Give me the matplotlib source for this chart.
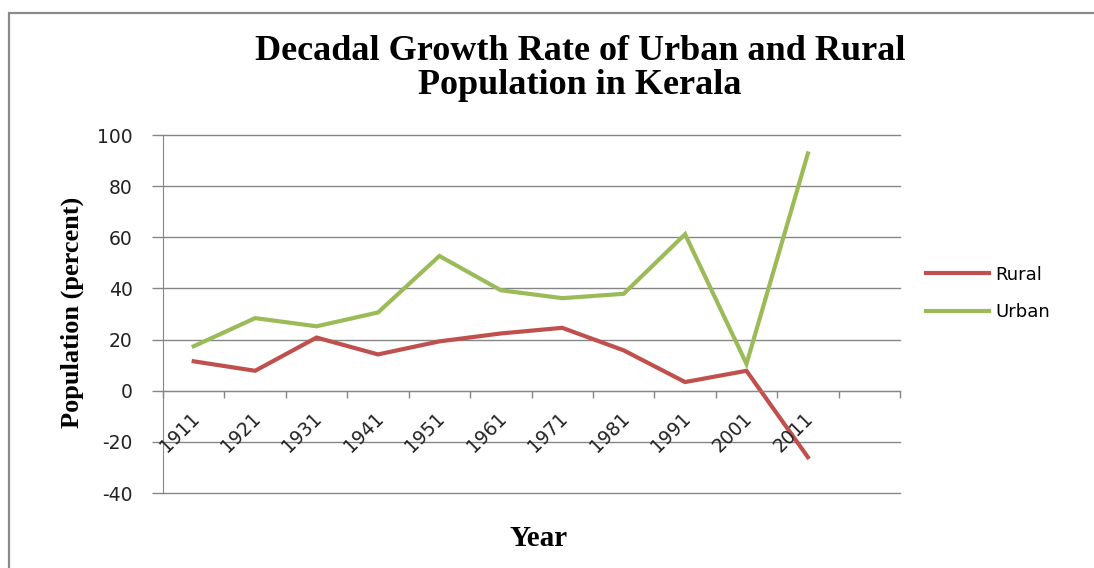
import matplotlib
matplotlib.use('Agg')
import matplotlib.pyplot as plt
from matplotlib.patches import Rectangle

plt.rcParams['axes.unicode_minus'] = False

# Decadal growth rate (%) of Kerala's population, census years 1911-2011
years = ['1911', '1921', '1931', '1941', '1951', '1961',
         '1971', '1981', '1991', '2001', '2011']
rural = [11.5, 7.8, 20.8, 14.2, 19.3, 22.4, 24.6, 15.8, 3.4, 7.8, -26.0]
urban = [17.4, 28.4, 25.2, 30.6, 52.7, 39.3, 36.2, 37.9, 61.2, 10.5, 92.8]

RURAL_COLOR = '#C0504D'
URBAN_COLOR = '#9BBB59'
GRID_COLOR = '#868686'
TEXT_COLOR = '#222222'
SERIF = 'Liberation Serif'


def plot_growth():
    fig = plt.figure(figsize=(10.94, 5.68), dpi=100)
    fig.patch.set_facecolor('white')

    # outer chart frame
    fig.patches.append(Rectangle((0.0085, -0.05), 1.1, 1.027,
                                 transform=fig.transFigure, fill=False,
                                 edgecolor='#8a8a8a', linewidth=1.6))

    ax = fig.add_axes([0.149, 0.132, 0.6737, 0.6303])

    # categories sit in the middle of each slot; one empty slot at the end
    xs = [i + 0.5 for i in range(len(years))]
    ax.plot(xs, rural, color=RURAL_COLOR, linewidth=3, label='Rural',
            solid_joinstyle='miter', clip_on=False)
    ax.plot(xs, urban, color=URBAN_COLOR, linewidth=3, label='Urban',
            solid_joinstyle='miter', clip_on=False)

    ax.set_xlim(0, len(years) + 1)
    ax.set_ylim(-40, 100)
    ax.set_yticks(range(-40, 101, 20))
    ax.yaxis.grid(True, color=GRID_COLOR, linewidth=1)
    for gl in ax.get_ygridlines():
        gl.set_clip_on(False)
    ax.set_axisbelow(True)

    for side in ['top', 'right']:
        ax.spines[side].set_visible(False)
    ax.spines['left'].set_color(GRID_COLOR)
    ax.spines['bottom'].set_color(GRID_COLOR)
    ax.spines['bottom'].set_position(('data', 0))

    ax.set_xticks(range(0, len(years) + 2))
    ax.set_xticklabels([])
    ax.tick_params(axis='x', direction='out', length=5, width=1, color=GRID_COLOR)
    ax.tick_params(axis='y', direction='out', length=8, width=1, color=GRID_COLOR,
                   pad=14, labelsize=13.5, labelcolor=TEXT_COLOR)

    # rotated year labels hanging under the zero line
    for x, yr in zip(xs, years):
        ax.annotate(yr, xy=(x, 0), xytext=(-3, -13), textcoords='offset points',
                    rotation=45, rotation_mode='anchor', ha='right', va='top',
                    fontsize=13.5, color=TEXT_COLOR, annotation_clip=False)

    fig.text(0.53, 0.88, 'Decadal Growth Rate of Urban and Rural\nPopulation in Kerala',
             ha='center', va='center', fontsize=26, fontweight='bold',
             family=SERIF, linespacing=1.05)
    fig.text(0.492, 0.052, 'Year', ha='center', va='center', fontsize=21,
             fontweight='bold', family=SERIF)
    fig.text(0.066, 0.45, 'Population (percent)', ha='center', va='center',
             rotation=90, fontsize=19, fontweight='bold', family=SERIF)

    ax.legend(loc='center left', bbox_to_anchor=(0.8464, 0.4833),
              bbox_transform=fig.transFigure, frameon=False, fontsize=13,
              handlelength=3.5, handletextpad=0.35, labelspacing=1.1,
              borderpad=0, borderaxespad=0)

    fig.savefig('out.png', dpi=100)
    plt.close(fig)


if __name__ == '__main__':
    plot_growth()
